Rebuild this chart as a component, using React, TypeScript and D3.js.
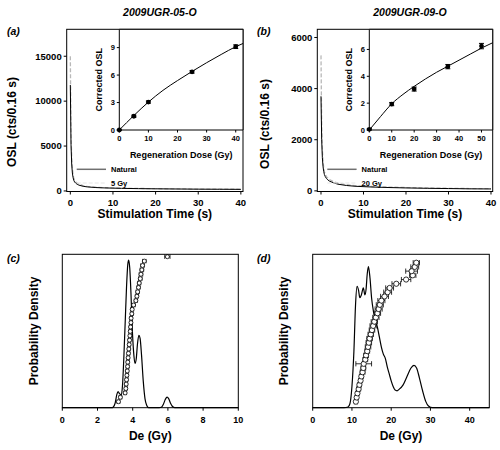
import React from "react";
import * as d3 from "d3";

const FONT = "'Liberation Sans', Arial, Helvetica, sans-serif";
const NARROW = "'Liberation Sans Narrow', 'Liberation Sans', Arial, sans-serif";

// ---------------- data ----------------
const titles = ["2009UGR-05-O", "2009UGR-09-O"];
const panelLetters = ["(a)", "(b)", "(c)", "(d)"];

// OSL decay curves (time in s, counts per 0.16 s)
const decayTime = [0, 0.16, 0.32, 0.48, 0.64, 0.8, 1.0, 1.3, 1.6, 2, 3, 4, 6, 8, 12, 16, 20, 25, 30, 35, 40];
const naturalA = [11800, 5200, 3000, 2000, 1500, 1200, 1000, 850, 750, 650, 520, 450, 380, 340, 290, 260, 240, 220, 200, 190, 180];
const regenA = [15000, 6500, 3700, 2500, 1850, 1450, 1200, 1000, 880, 760, 600, 510, 420, 370, 310, 280, 255, 230, 210, 200, 185];
const naturalB = [3700, 2000, 1300, 950, 760, 640, 560, 480, 430, 380, 310, 260, 210, 180, 150, 130, 115, 100, 90, 80, 75];
const regenB = [5300, 2600, 1600, 1150, 900, 750, 650, 560, 500, 440, 360, 300, 240, 205, 170, 150, 130, 115, 100, 90, 85];
const legendA = ["Natural", "5 Gy"];
const legendB = ["Natural", "20 Gy"];
const decayXTicks = [0, 10, 20, 30, 40];
const decayYTicksA = [0, 5000, 10000, 15000];
const decayYTicksB = [0, 2000, 4000, 6000];

// Dose-response (insets)
const doseA = [0, 5, 10, 25, 40];
const lxA = [0, 1.5, 3.05, 6.35, 9.1];
const lxErrA = [0.06, 0.12, 0.12, 0.14, 0.2];
const fitDoseA = [0, 5, 10, 15, 20, 25, 30, 35, 40, 42.5];
const fitA = [0, 1.58, 3.05, 4.33, 5.4, 6.4, 7.35, 8.25, 9.1, 9.45];
const insetXTicksA = [0, 10, 20, 30, 40];
const insetYTicksA = [0, 3, 6, 9];

const doseB = [0, 10, 20, 35, 50];
const lxB = [0.05, 1.93, 3.05, 4.72, 6.25];
const lxErrB = [0.06, 0.12, 0.15, 0.16, 0.2];
const fitDoseB = [0, 5, 10, 15, 20, 25, 30, 35, 40, 45, 50, 55];
const fitB = [0, 1.0, 1.95, 2.65, 3.25, 3.8, 4.3, 4.75, 5.2, 5.65, 6.1, 6.5];
const insetXTicksB = [0, 10, 20, 30, 40, 50];
const insetYTicksB = [0, 2, 4, 6];

// De distributions (c)
const deC = [3.19, 3.3, 3.57, 3.61, 3.63, 3.65, 3.67, 3.69, 3.71, 3.72, 3.74, 3.76, 3.78, 3.8, 3.82, 3.84, 3.86, 3.88, 3.9, 3.91, 3.95, 3.97, 4.05, 4.18, 4.24, 4.28, 4.33, 4.37, 4.43, 4.47, 4.52, 4.56, 4.66, 5.97];
const deErrC = [0.08, 0.08, 0.08, 0.08, 0.08, 0.08, 0.08, 0.08, 0.08, 0.08, 0.08, 0.08, 0.08, 0.08, 0.08, 0.08, 0.08, 0.08, 0.08, 0.08, 0.08, 0.08, 0.09, 0.09, 0.09, 0.09, 0.09, 0.09, 0.1, 0.1, 0.1, 0.1, 0.1, 0.15];
const pdfXC = [0, 2.8, 2.9, 3.0, 3.1, 3.17, 3.25, 3.35, 3.42, 3.5, 3.58, 3.65, 3.72, 3.77, 3.83, 3.9, 3.97, 4.05, 4.13, 4.2, 4.27, 4.35, 4.42, 4.5, 4.6, 4.7, 4.8, 4.9, 5.5, 5.65, 5.75, 5.85, 5.95, 6.05, 6.15, 6.25, 6.4, 10];
const pdfYC = [0, 0, 0.005, 0.03, 0.09, 0.11, 0.095, 0.085, 0.15, 0.35, 0.6, 0.82, 0.97, 1.0, 0.95, 0.78, 0.55, 0.38, 0.3, 0.33, 0.43, 0.49, 0.47, 0.36, 0.18, 0.06, 0.015, 0, 0, 0.005, 0.025, 0.055, 0.072, 0.06, 0.03, 0.01, 0, 0];
const deXTicksC = [0, 2, 4, 6, 8, 10];

// De distributions (d)
const deD = [11.0, 11.2, 11.4, 11.7, 11.9, 12.2, 12.4, 12.7, 12.9, 13.0, 13.4, 13.6, 13.9, 14.1, 14.3, 14.5, 14.8, 15.1, 15.4, 15.7, 16.1, 16.5, 16.8, 17.1, 17.5, 18.3, 19.1, 19.6, 21.3, 23.8, 25.5, 25.2, 26.0, 26.4];
const deErrD = [0.4, 0.4, 0.4, 0.5, 0.5, 0.5, 0.5, 0.6, 0.6, 2.0, 0.6, 0.6, 0.6, 0.7, 0.7, 0.7, 0.7, 0.7, 0.8, 0.8, 0.8, 0.8, 0.9, 0.9, 0.9, 1.0, 1.0, 1.0, 1.1, 1.2, 0.8, 1.5, 1.0, 0.8];
const pdfXD = [0, 8, 9, 9.5, 10, 10.5, 10.9, 11.3, 11.7, 12.0, 12.4, 12.9, 13.3, 13.6, 13.9, 14.2, 14.6, 15.0, 15.5, 16.0, 16.5, 17.0, 17.5, 18.0, 18.5, 19.0, 19.5, 20.0, 20.5, 21.0, 21.5, 22.0, 23.0, 24.0, 25.0, 25.8, 26.5, 27.2, 28.0, 28.8, 29.5, 30.5, 45];
const pdfYD = [0, 0, 0.005, 0.03, 0.15, 0.4, 0.72, 0.86, 0.83, 0.78, 0.8, 0.85, 0.8, 0.84, 0.95, 1.0, 0.92, 0.78, 0.68, 0.62, 0.57, 0.5, 0.43, 0.38, 0.35, 0.29, 0.24, 0.19, 0.15, 0.125, 0.12, 0.13, 0.16, 0.22, 0.28, 0.3, 0.28, 0.21, 0.12, 0.045, 0.012, 0, 0];
const deXTicksD = [0, 10, 20, 30, 40];

// ---------------- helpers ----------------
type Scale = d3.ScaleLinear<number, number>;

function Frame({ l, r, t, b }: { l: number; r: number; t: number; b: number }) {
  return <rect x={l} y={t} width={r - l} height={b - t} fill="none" stroke="#000" strokeWidth={1} />;
}

function XTicks({ scale, ticks, y, fs, len = 3, off }: { scale: Scale; ticks: number[]; y: number; fs: number; len?: number; off: number }) {
  return (
    <g>
      {ticks.map((t) => (
        <g key={t}>
          <line x1={scale(t)} x2={scale(t)} y1={y} y2={y + len} stroke="#000" strokeWidth={1} />
          <text x={scale(t)} y={y + off} textAnchor="middle" fontSize={fs} fontWeight="bold">
            {t}
          </text>
        </g>
      ))}
    </g>
  );
}

function YTicks({ scale, ticks, x, fs, len = 3, off }: { scale: Scale; ticks: number[]; x: number; fs: number; len?: number; off: number }) {
  return (
    <g>
      {ticks.map((t) => (
        <g key={t}>
          <line x1={x - len} x2={x} y1={scale(t)} y2={scale(t)} stroke="#000" strokeWidth={1} />
          <text x={x - off} y={scale(t)} dy="0.35em" textAnchor="end" fontSize={fs} fontWeight="bold">
            {t}
          </text>
        </g>
      ))}
    </g>
  );
}

function DecayPanel(props: {
  l: number; r: number; t: number; b: number;
  xDom: [number, number]; yDom: [number, number];
  yTicks: number[]; natural: number[]; regen: number[];
  il: number; ib: number; ixDom: [number, number]; iyDom: [number, number];
  ixTicks: number[]; iyTicks: number[];
  dose: number[]; lx: number[]; lxErr: number[]; fitDose: number[]; fit: number[];
  legend: string[]; title: string; letter: string; letterX: number; yLabelX: number; yLabelY: number;
}) {
  const { l, r, t, b, il, ib } = props;
  const x = d3.scaleLinear().domain(props.xDom).range([l, r]);
  const y = d3.scaleLinear().domain(props.yDom).range([b, t]);
  const ix = d3.scaleLinear().domain(props.ixDom).range([il, r]);
  const iy = d3.scaleLinear().domain(props.iyDom).range([ib, t]);
  const line = d3.line<number>().x((_, i) => x(decayTime[i])).y((d) => y(d));
  const fitLine = d3.line<number>().x((_, i) => ix(props.fitDose[i])).y((d) => iy(d)).curve(d3.curveMonotoneX);
  const cx = (l + r) / 2;
  const icx = (il + r) / 2;
  return (
    <g>
      <text x={cx + 5} y={15.5} textAnchor="middle" fontSize={10.5} fontWeight="bold" fontStyle="italic" fontFamily={NARROW}>
        {props.title}
      </text>
      <text x={props.letterX} y={35} fontSize={10.5} fontStyle="italic" fontWeight="bold">
        {props.letter}
      </text>
      <path d={line(props.regen) || ""} fill="none" stroke="#b8b8b8" strokeWidth={1.3} strokeDasharray="4,2" />
      <path d={line(props.natural) || ""} fill="none" stroke="#000" strokeWidth={1} />
      <Frame l={l} r={r} t={t} b={b} />
      <XTicks scale={x} ticks={decayXTicks} y={b} fs={9.5} off={14.5} />
      <YTicks scale={y} ticks={props.yTicks} x={l} fs={9.5} off={5} />
      <text x={cx} y={218} textAnchor="middle" fontSize={12} fontWeight="bold">Stimulation Time (s)</text>
      <text transform={`translate(${props.yLabelX},${props.yLabelY}) rotate(-90)`} textAnchor="middle" fontSize={12} fontWeight="bold">
        OSL (cts/0.16 s)
      </text>
      {/* legend */}
      <line x1={l + 10} x2={l + 39.3} y1={169.3} y2={169.3} stroke="#707070" strokeWidth={1.5} />
      <line x1={l + 10} x2={l + 39.3} y1={183} y2={183} stroke="#e4e4e4" strokeWidth={1} strokeDasharray="4,2" />
      <text x={l + 44.3} y={172} fontSize={7.5} fontWeight="bold">{props.legend[0]}</text>
      <text x={l + 44.3} y={186} fontSize={7.5} fontWeight="bold">{props.legend[1]}</text>
      {/* inset */}
      <rect x={il} y={t} width={r - il} height={ib - t} fill="#fff" />
      <line x1={il} x2={il} y1={t} y2={ib} stroke="#000" />
      <line x1={il} x2={r} y1={ib} y2={ib} stroke="#000" />
      <line x1={il} x2={r} y1={t} y2={t} stroke="#000" />
      <line x1={r} x2={r} y1={t} y2={ib} stroke="#000" />
      <XTicks scale={ix} ticks={props.ixTicks} y={ib} fs={7.5} off={11} len={2.5} />
      <YTicks scale={iy} ticks={props.iyTicks} x={il} fs={7.5} off={4.5} len={2.5} />
      <text x={icx} y={157.5} textAnchor="middle" fontSize={9} fontWeight="bold">Regeneration Dose (Gy)</text>
      <text transform={`translate(${il - 17.5},${(t + ib) / 2}) rotate(-90)`} textAnchor="middle" fontSize={9} fontWeight="bold">
        Corrected OSL
      </text>
      <path d={fitLine(props.fit) || ""} fill="none" stroke="#000" strokeWidth={1} />
      {props.dose.map((d, i) => (
        <g key={i}>
          <line x1={ix(d)} x2={ix(d)} y1={iy(props.lx[i] - props.lxErr[i])} y2={iy(props.lx[i] + props.lxErr[i])} stroke="#000" />
          <line x1={ix(d) - 2.5} x2={ix(d) + 2.5} y1={iy(props.lx[i] - props.lxErr[i])} y2={iy(props.lx[i] - props.lxErr[i])} stroke="#000" />
          <line x1={ix(d) - 2.5} x2={ix(d) + 2.5} y1={iy(props.lx[i] + props.lxErr[i])} y2={iy(props.lx[i] + props.lxErr[i])} stroke="#000" />
          <circle cx={ix(d)} cy={iy(props.lx[i])} r={2.4} fill="#000" />
        </g>
      ))}
    </g>
  );
}

function DePanel(props: {
  l: number; r: number; t: number; b: number; xDom: [number, number]; dMax: number;
  xTicks: number[]; pdfX: number[]; pdfY: number[]; de: number[]; err: number[];
  r0: number; cap: number; letter: string; letterX: number; yLabelX: number; topPad: number;
}) {
  const { l, r, t, b } = props;
  const x = d3.scaleLinear().domain(props.xDom).range([l, r]);
  const y = d3.scaleLinear().domain([0, props.dMax]).range([b, t]);
  const rank = d3.scaleLinear().domain([1, props.de.length]).range([b - 6, t + props.topPad]);
  const pdf = d3.line<number>().x((_, i) => x(props.pdfX[i])).y((d) => y(d)).curve(d3.curveMonotoneX);
  const cx = (l + r) / 2;
  return (
    <g>
      <text x={props.letterX} y={262} fontSize={10.5} fontStyle="italic" fontWeight="bold">{props.letter}</text>
      <path d={pdf(props.pdfY) || ""} fill="none" stroke="#000" strokeWidth={1.2} />
      {props.de.map((d, i) => {
        const yy = rank(i + 1);
        const x0 = x(d - props.err[i]);
        const x1 = x(d + props.err[i]);
        return (
          <g key={i}>
            <line x1={x0} x2={x1} y1={yy} y2={yy} stroke="#000" strokeWidth={0.8} />
            <line x1={x0} x2={x0} y1={yy - props.cap} y2={yy + props.cap} stroke="#000" strokeWidth={0.8} />
            <line x1={x1} x2={x1} y1={yy - props.cap} y2={yy + props.cap} stroke="#000" strokeWidth={0.8} />
            <circle cx={x(d)} cy={yy} r={props.r0} fill="#fff" stroke="#000" strokeWidth={0.8} />
          </g>
        );
      })}
      <Frame l={l} r={r} t={t} b={b} />
      <XTicks scale={x} ticks={props.xTicks} y={b} fs={9} off={15.5} />
      <text x={cx} y={440} textAnchor="middle" fontSize={12} fontWeight="bold">De (Gy)</text>
      <text transform={`translate(${props.yLabelX},${(t + b) / 2}) rotate(-90)`} textAnchor="middle" fontSize={12} fontWeight="bold">
        Probability Density
      </text>
    </g>
  );
}

export default function App() {
  return (
    <svg
      width={500}
      height={450}
      viewBox="0 0 500 450"
      style={{ position: "absolute", left: 0, top: 0, background: "#fff", fontFamily: FONT }}
    >
      <rect width={500} height={450} fill="#fff" />
      <DecayPanel
        l={66.7} r={243} t={29.3} b={191.5}
        xDom={[-0.85, 40.5]} yDom={[-60, 18000]} yTicks={decayYTicksA}
        natural={naturalA} regen={regenA}
        il={119.3} ib={130} ixDom={[0, 42.5]} iyDom={[0, 11]}
        ixTicks={insetXTicksA} iyTicks={insetYTicksA}
        dose={doseA} lx={lxA} lxErr={lxErrA} fitDose={fitDoseA} fit={fitA}
        legend={legendA} title={titles[0]} letter={panelLetters[0]} letterX={7}
        yLabelX={16} yLabelY={122}
      />
      <DecayPanel
        l={317.3} r={492.7} t={29.3} b={191.5}
        xDom={[-0.87, 40.4]} yDom={[-25, 6320]} yTicks={decayYTicksB}
        natural={naturalB} regen={regenB}
        il={369.3} ib={130} ixDom={[0, 55]} iyDom={[0, 7.5]}
        ixTicks={insetXTicksB} iyTicks={insetYTicksB}
        dose={doseB} lx={lxB} lxErr={lxErrB} fitDose={fitDoseB} fit={fitB}
        legend={legendB} title={titles[1]} letter={panelLetters[1]} letterX={257}
        yLabelX={269} yLabelY={124}
      />
      <DePanel
        l={62.3} r={238.3} t={254.3} b={407.7} xDom={[0, 10]} dMax={1.04}
        xTicks={deXTicksC} pdfX={pdfXC} pdfY={pdfYC} de={deC} err={deErrC}
        r0={2} cap={2.2} letter={panelLetters[2]} letterX={7} yLabelX={37.5} topPad={2.4}
      />
      <DePanel
        l={312.7} r={489.3} t={254.3} b={407.7} xDom={[0, 45]} dMax={1.088}
        xTicks={deXTicksD} pdfX={pdfXD} pdfY={pdfYD} de={deD} err={deErrD}
        r0={2.6} cap={2.6} letter={panelLetters[3]} letterX={257} yLabelX={288} topPad={8.4}
      />
    </svg>
  );
}
